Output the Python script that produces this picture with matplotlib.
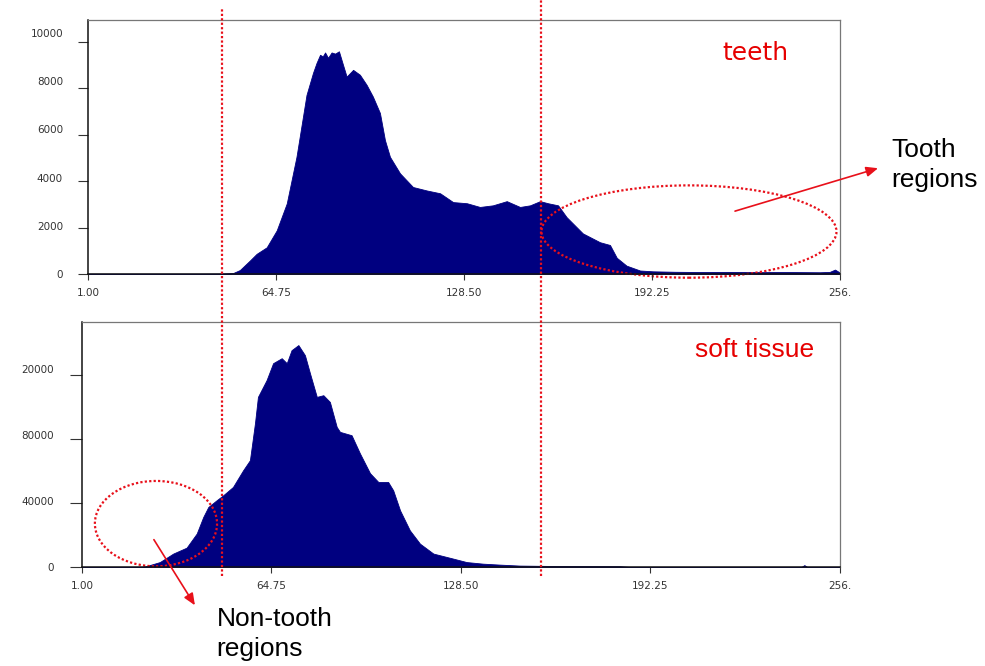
import numpy as np
import matplotlib
matplotlib.use('Agg')
from matplotlib import pyplot as plt
from matplotlib import transforms
from matplotlib.patches import Ellipse
from matplotlib.lines import Line2D

# grey level / pixel count
teeth_level = [1, 39, 46.3, 50.2, 52.5, 55.9, 58.2, 61.6, 65.0, 68.4, 71.7, 75.1,
               77.3, 78.5, 79.7, 80.6, 81.4, 82.4, 83.6, 84.8, 86.1, 87.4, 88.7,
               90.9, 93.2, 95.5, 97.6, 100.0, 101.7, 103.4, 106.8, 111.2, 115.9,
               120.4, 124.8, 129.5, 133.9, 138.3, 143.0, 147.5, 150.9, 154.3,
               157.0, 160.4, 163.3, 168.8, 174.6, 178.0, 180.3, 183.6, 188.2,
               192.6, 200, 208.5, 218, 228.9, 238, 249.2, 252.5, 254.3, 255.2, 256]
teeth_count = [10, 10, 15, 40, 170, 580, 870, 1150, 1880, 3040, 5050, 7720,
               8670, 9100, 9450, 9380, 9550, 9320, 9550, 9500, 9600, 9050, 8510,
               8800, 8590, 8150, 7650, 6940, 5770, 5050, 4340, 3750, 3600,
               3480, 3100, 3050, 2890, 2960, 3140, 2890, 2960, 3140,
               3050, 2960, 2450, 1750, 1370, 1250, 700, 360, 150,
               115, 95, 85, 90, 80, 85, 75, 90, 190, 120, 60]

soft_level = [1, 21.6, 27.2, 31.7, 36.2, 39.6, 41.8, 43.5, 46.3, 48.5, 51.8, 55.2,
              57.5, 59.2, 60.2, 63.1, 65.3, 68.2, 69.9, 71.5, 73.8, 76.0, 77.7,
              80.0, 82.2, 84.4, 86.7, 87.8, 91.7, 94.5, 97.9, 100.7, 104.0, 105.7,
              108.0, 111.3, 114.7, 119.2, 125.9, 130.4, 135.9, 141.6, 148.3,
              161.8, 182.0, 185.3, 243, 244, 245, 256]
soft_count = [0, 0, 3100, 8400, 12100, 20900, 31250, 37500, 41700, 44800, 50000, 60400,
              66700, 89800, 106250, 116700, 127300, 130400, 127300, 135400, 138600, 132300, 121000,
              106250, 107300, 103100, 87500, 84400, 82300, 71000, 58600, 53100, 53100, 47900,
              35400, 22900, 14600, 8400, 5250, 3100, 2100, 1500, 900,
              600, 500, 0, 0, 1200, 0, 0]

teeth_yticks = [0, 2000, 4000, 6000, 8000, 10000]
soft_yticks = [0, 40000, 80000, 120000]
soft_yticklabels = ['0', '40000', '80000', '20000']
xticks = [1.00, 64.75, 128.50, 192.25, 256.0]
xticklabels = ['1.00', '64.75', '128.50', '192.25', '256.']

# threshold grey levels (dotted red lines)
thresholds = [46.3, 154.5]

navy = '#000080'
red = '#e8101a'
dots = (0, (1, 1))

fig = plt.figure(figsize=(9.85, 6.66), dpi=100)
ax1 = fig.add_axes([0.0893, 0.5886, 0.7635, 0.3814])
ax2 = fig.add_axes([0.0832, 0.1486, 0.7696, 0.3679])

for ax, lev, cnt in [(ax1, teeth_level, teeth_count), (ax2, soft_level, soft_count)]:
  ax.fill_between(lev, cnt, 0, color=navy, lw=0.6, edgecolor=navy)
  ax.set_xlim(1, 256)
  ax.set_xticks(xticks)
  ax.set_xticklabels(xticklabels)
  ax.tick_params(axis='x', direction='out', length=4, pad=6, labelsize=7.5,
                 labelcolor='#333333', color='#333333')
  ax.tick_params(axis='y', direction='out', length=7, pad=11, labelsize=7.5,
                 labelcolor='#333333', color='#333333')
  for side in ['top', 'right']:
    ax.spines[side].set_color('#777777')
    ax.spines[side].set_linewidth(0.9)
  for side in ['left', 'bottom']:
    ax.spines[side].set_color('#111111')
    ax.spines[side].set_linewidth(1.1)

ax1.set_ylim(0, 10950)
ax1.set_yticks(teeth_yticks)
ax1.set_yticklabels([str(v) for v in teeth_yticks])

ax2.set_ylim(0, 153000)
ax2.set_yticks(soft_yticks)
ax2.set_yticklabels(soft_yticklabels)
ax2.tick_params(axis='y', length=9)

# y labels sit a little above their ticks, more so further up
for ax in [ax1, ax2]:
  for i, lbl in enumerate(ax.get_yticklabels()):
    shift = transforms.ScaledTranslation(0, 0.018 * i, fig.dpi_scale_trans)
    lbl.set_transform(lbl.get_transform() + shift)

# dotted threshold lines running through both panels
trans = transforms.blended_transform_factory(ax1.transData, fig.transFigure)
for t, top in zip(thresholds, [0.988, 1.0]):
  fig.add_artist(Line2D([t, t], [0.135, top], transform=trans, color=red,
                        lw=1.6, linestyle=dots))

# highlighted regions
ax1.add_patch(Ellipse((204.8, 1830), 100, 3980, fill=False, edgecolor=red,
                      lw=1.6, linestyle=dots, clip_on=False))
ax2.add_patch(Ellipse((25.9, 27100), 41.1, 53300, fill=False, edgecolor=red,
                      lw=1.6, linestyle=dots, clip_on=False))

arrow = dict(arrowstyle='-|>,head_length=0.7,head_width=0.3', color=red, lw=1.2,
             shrinkA=0, shrinkB=0)
ax1.annotate('', xy=(268.9, 4560), xytext=(220.4, 2710), arrowprops=arrow,
             annotation_clip=False)
ax2.annotate('', xy=(39.0, -23900), xytext=(25.2, 17100), arrowprops=arrow,
             annotation_clip=False)

fig.text(0.7665, 0.920, 'teeth', color='#e60000', fontsize=18,
         family='DejaVu Sans', ha='center', va='center')
fig.text(0.7665, 0.4745, 'soft tissue', color='#e60000', fontsize=19,
         family='Liberation Sans', ha='center', va='center')
fig.text(0.9046, 0.752, 'Tooth\nregions', color='black', fontsize=19,
         family='Liberation Sans', ha='left', va='center', linespacing=1.35)
fig.text(0.220, 0.048, 'Non-tooth\nregions', color='black', fontsize=19,
         family='Liberation Sans', ha='left', va='center', linespacing=1.35)

fig.savefig('out.png', dpi=100)
